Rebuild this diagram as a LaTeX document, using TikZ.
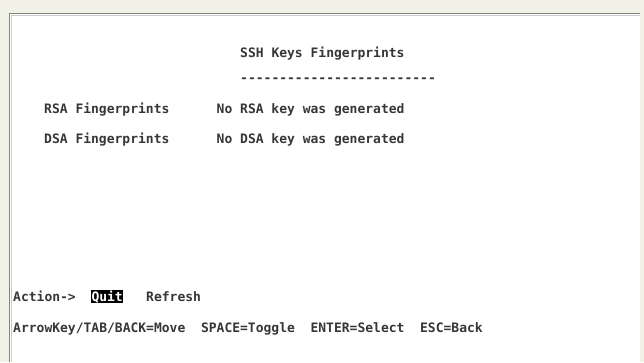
\documentclass[tikz,border=0pt]{standalone}
\usepackage{fontspec}
\setmonofont{DejaVu Sans Mono}
\definecolor{outerbg}{RGB}{241,241,230}
\definecolor{framegray}{RGB}{130,132,125}
\definecolor{termtext}{RGB}{55,55,55}
\begin{document}
\begin{tikzpicture}[x=1pt,y=-1pt,
  txt/.style={anchor=base west,inner sep=0pt,text=termtext,font=\ttfamily\bfseries\fontsize{13}{13}\selectfont},
  hl/.style={fill=black,inner sep=0pt,minimum width=32pt,minimum height=13pt,anchor=center}]
\useasboundingbox (0,0) rectangle (644,362);
\fill[outerbg] (0,0) rectangle (644,362);
\fill[white] (9,13) rectangle (640,362);
\draw[framegray,line width=1.6pt] (9.5,362) -- (9.5,13.5) -- (640,13.5);
\draw[gray!40,line width=0.8pt] (11,362) -- (11,15.2) -- (640,15.2);
\node[txt] (title) at (240,57) {SSH Keys Fingerprints};
\node[txt] (dashes) at (240,82) {-------------------------};
\node[txt] (rsa) at (44,113) {RSA Fingerprints};
\node[txt] (rsano) at (216.5,113) {No RSA key was generated};
\node[txt] (dsa) at (44,143) {DSA Fingerprints};
\node[txt] (dsano) at (216.5,143) {No DSA key was generated};
\node[txt] (action) at (13,301) {Action->};
\node[hl] (quitbox) at (107,296.5) {};
\node[txt,text=white] (quit) at (91.3,301) {Quit};
\node[txt] (refresh) at (146,301) {Refresh};
\node[txt] (help) at (13,332) {ArrowKey/TAB/BACK=Move~~SPACE=Toggle~~ENTER=Select~~ESC=Back};
\end{tikzpicture}
\end{document}
